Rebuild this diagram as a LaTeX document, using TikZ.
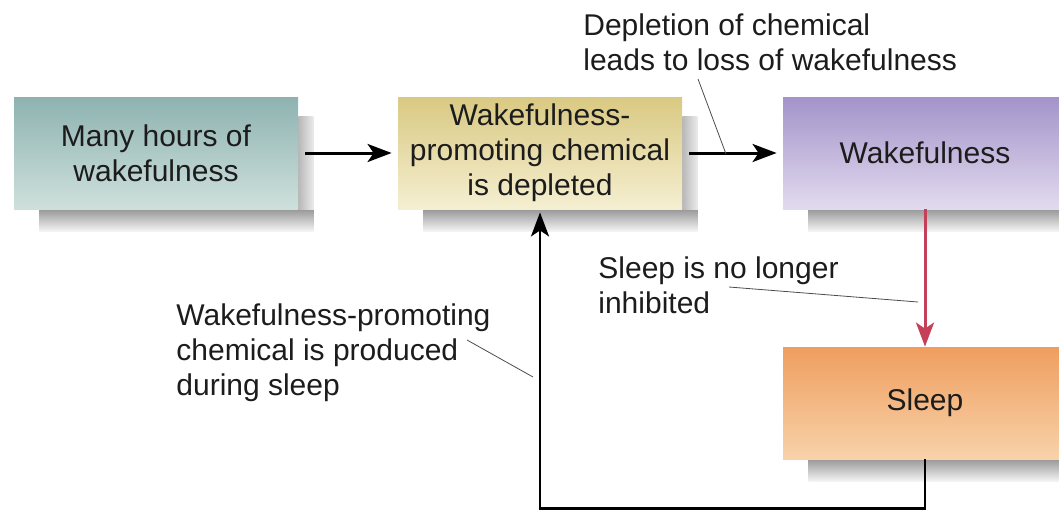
\documentclass[tikz,border=0pt]{standalone}
\usepackage{fontspec}
\setmainfont{Liberation Sans}
\usetikzlibrary{arrows.meta,backgrounds}
\definecolor{textdark}{RGB}{28,28,28}
\definecolor{tealtop}{RGB}{141,179,177}
\definecolor{tealbot}{RGB}{207,224,220}
\definecolor{yeltop}{RGB}{217,201,130}
\definecolor{yelbot}{RGB}{245,239,210}
\definecolor{purtop}{RGB}{163,147,201}
\definecolor{purbot}{RGB}{226,219,239}
\definecolor{oratop}{RGB}{239,158,94}
\definecolor{orabot}{RGB}{248,210,170}
\definecolor{redarrow}{RGB}{196,64,88}
\tikzset{
  box/.style={minimum width=142pt, minimum height=56pt, inner sep=0pt, align=center,
    text=textdark, font=\fontsize{15}{17.5}\selectfont},
  note/.style={anchor=north west, inner sep=0pt, align=left,
    text=textdark, font=\fontsize{15}{17.5}\selectfont},
  leader/.style={line width=0.4pt, black!70}
}

\begin{document}
\begin{tikzpicture}[x=0.5pt,y=-0.5pt,>={Stealth[length=12pt,width=9pt,inset=3pt]}]
    \useasboundingbox (0,0) rectangle (1059,514);
    \node[box, top color=tealtop, bottom color=tealbot] (many) at (156,153) {Many hours of\\wakefulness};
    \node[box, top color=yeltop, bottom color=yelbot] (depleted) at (540,153) {Wakefulness-\\promoting chemical\\is depleted};
    \node[box, top color=purtop, bottom color=purbot] (wake) at (925,153) {Wakefulness};
    \node[box, top color=oratop, bottom color=orabot] (sleep) at (925,403) {Sleep};
    \begin{scope}[on background layer]
      \foreach \b in {many,depleted,wake,sleep}{
        \shade[top color=black!40, bottom color=black!4] ([xshift=13pt]\b.south west) rectangle ([xshift=7.5pt,yshift=-11pt]\b.south east);
        \shade[left color=black!28, right color=black!8] ([yshift=-10pt]\b.north east) rectangle ([xshift=7.5pt]\b.south east);
      }
    \end{scope}
    \draw[->, line width=1.5pt, shorten <=3.5pt, shorten >=3pt] (many) -- (depleted);
    \draw[->, line width=1.5pt, shorten <=3.5pt, shorten >=3pt] (depleted) -- (wake);
    \draw[->, line width=1.5pt, redarrow] (wake) -- (sleep);
    \draw[->, line width=1.4pt] (sleep.south) -- ++(0,49) -| ([yshift=-1.5pt]depleted.south);
    \node[note] (depnote) at (583,13) {Depletion of chemical\\leads to loss of wakefulness};
    \node[note] (inhnote) at (598,256) {Sleep is no longer\\inhibited};
    \node[note] (prodnote) at (176,303) {Wakefulness-promoting\\chemical is produced\\during sleep};
    \coordinate (dep-a) at (698,79);
    \coordinate (dep-b) at (726,154);
    \coordinate (inh-a) at (729,287);
    \coordinate (inh-b) at (918,302);
    \coordinate (prod-a) at (467,340);
    \coordinate (prod-b) at (533,377);
    \draw[leader] (dep-a) -- (dep-b);
    \draw[leader] (inh-a) -- (inh-b);
    \draw[leader] (prod-a) -- (prod-b);
\end{tikzpicture}
\end{document}
